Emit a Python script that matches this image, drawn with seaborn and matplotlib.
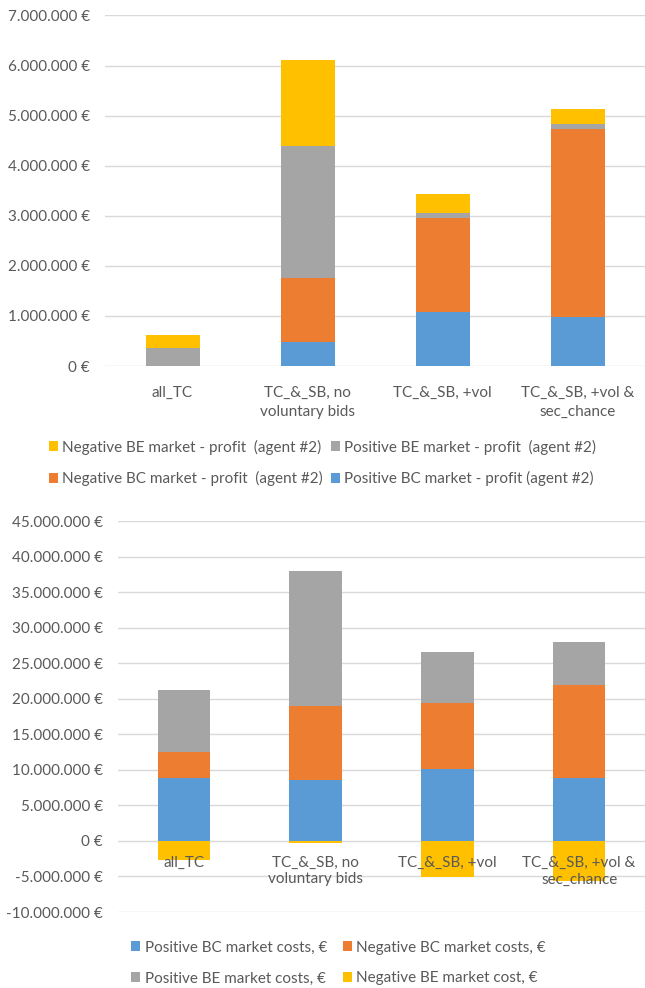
import numpy as np
import matplotlib
matplotlib.use("Agg")
import matplotlib.pyplot as plt
from matplotlib.ticker import FuncFormatter, MultipleLocator
from matplotlib.patches import Patch
import seaborn as sns

scenarios = ["all_TC", "TC_&_SB, no\nvoluntary bids", "TC_&_SB, +vol", "TC_&_SB, +vol &\nsec_chance"]

# Agent #2 profit per market (EUR)
profit_pos_bc = [0, 485_000, 1_070_000, 970_000]
profit_neg_bc = [0, 1_275_000, 1_880_000, 3_760_000]
profit_pos_be = [360_000, 2_640_000, 100_000, 100_000]
profit_neg_be = [260_000, 1_710_000, 380_000, 310_000]

# Market costs (EUR)
cost_pos_bc = [8_900_000, 8_580_000, 10_130_000, 8_900_000]
cost_neg_bc = [3_660_000, 10_410_000, 9_230_000, 13_040_000]
cost_pos_be = [8_680_000, 18_940_000, 7_270_000, 6_100_000]
cost_neg_be = [-2_720_000, -280_000, -5_060_000, -5_580_000]

profit_labels = ["Positive BC market - profit (agent #2)", "Negative BC market - profit  (agent #2)",
                 "Positive BE market - profit  (agent #2)", "Negative BE market - profit  (agent #2)"]
cost_labels = ["Positive BC market costs, \u20ac", "Negative BC market costs, \u20ac",
               "Positive BE market costs, \u20ac", "Negative BE market cost, \u20ac"]

BLUE, ORANGE, GRAY, YELLOW = "#5B9BD5", "#ED7D31", "#A5A5A5", "#FFC000"
TXT = "#595959"

sns.set_theme(style="whitegrid")
FAM = ["Lato", "Open Sans", "DejaVu Sans"]
plt.rcParams["font.family"] = FAM
FS = 11

fig = plt.figure(figsize=(6.45, 9.88), dpi=100)
ax1 = fig.add_axes([105 / 645, 1 - 366 / 988, 1 - 105 / 645, (366 - 15.5) / 988])
ax2 = fig.add_axes([118 / 645, 1 - 912 / 988, 1 - 118 / 645, (912 - 521) / 988])


def euro(v, _pos):
    return f"{int(round(v)):,}".replace(",", ".") + " \u20ac"


def stacked(ax, series, colors):
    base = np.zeros(len(scenarios))
    for vals, col in zip(series, colors):
        sns.barplot(x=scenarios, y=vals, bottom=base.copy(), color=col, saturation=1,
                    width=0.4, errorbar=None, ax=ax, linewidth=0)
        base += np.asarray(vals, dtype=float)


stacked(ax1, [profit_pos_bc, profit_neg_bc, profit_pos_be, profit_neg_be], [BLUE, ORANGE, GRAY, YELLOW])
stacked(ax2, [cost_pos_bc, cost_neg_bc, cost_pos_be], [BLUE, ORANGE, GRAY])
sns.barplot(x=scenarios, y=cost_neg_be, color=YELLOW, saturation=1, width=0.4,
            errorbar=None, ax=ax2, linewidth=0)

for ax, lo, hi, step, xpad in [(ax1, 0, 7_000_000, 1_000_000, 14),
                                (ax2, -10_000_000, 45_000_000, 5_000_000, 11)]:
    ax.set_ylim(lo, hi)
    ax.set_xlim(-0.5, 3.5)
    ax.yaxis.set_major_locator(MultipleLocator(step))
    ax.yaxis.set_major_formatter(FuncFormatter(euro))
    ax.grid(axis="y", color="#D9D9D9", linewidth=1)
    ax.grid(axis="x", visible=False)
    for s in ax.spines.values():
        s.set_visible(False)
    ax.set_xlabel("")
    ax.set_ylabel("")
    ax.tick_params(axis="y", length=0, pad=11, labelsize=FS, labelcolor=TXT)
    ax.tick_params(axis="x", length=0, pad=xpad, labelsize=FS, labelcolor=TXT)
    for t in ax.get_xticklabels():
        t.set_linespacing(1.5)

# category labels sit on the zero line of the cost chart, on top of the bars
ax2.spines["bottom"].set_position(("data", 0))
ax2.xaxis.set_zorder(5)

h = lambda c: Patch(facecolor=c, edgecolor="none")
fig.legend([h(YELLOW), h(ORANGE), h(GRAY), h(BLUE)],
           [profit_labels[3], profit_labels[1], profit_labels[2], profit_labels[0]],
           ncol=2, loc="center", bbox_to_anchor=(0.5, 1 - 463 / 988), frameon=False,
           fontsize=FS, labelcolor=TXT, handlelength=0.6, handleheight=0.6,
           handletextpad=0.3, columnspacing=0.5, labelspacing=1.1)
fig.legend([h(BLUE), h(GRAY), h(ORANGE), h(YELLOW)],
           [cost_labels[0], cost_labels[2], cost_labels[1], cost_labels[3]],
           ncol=2, loc="center", bbox_to_anchor=(0.525, 1 - 963 / 988), frameon=False,
           fontsize=FS, labelcolor=TXT, handlelength=0.6, handleheight=0.6,
           handletextpad=0.3, columnspacing=1.0, labelspacing=1.1)

fig.savefig("out.png", dpi=100)
